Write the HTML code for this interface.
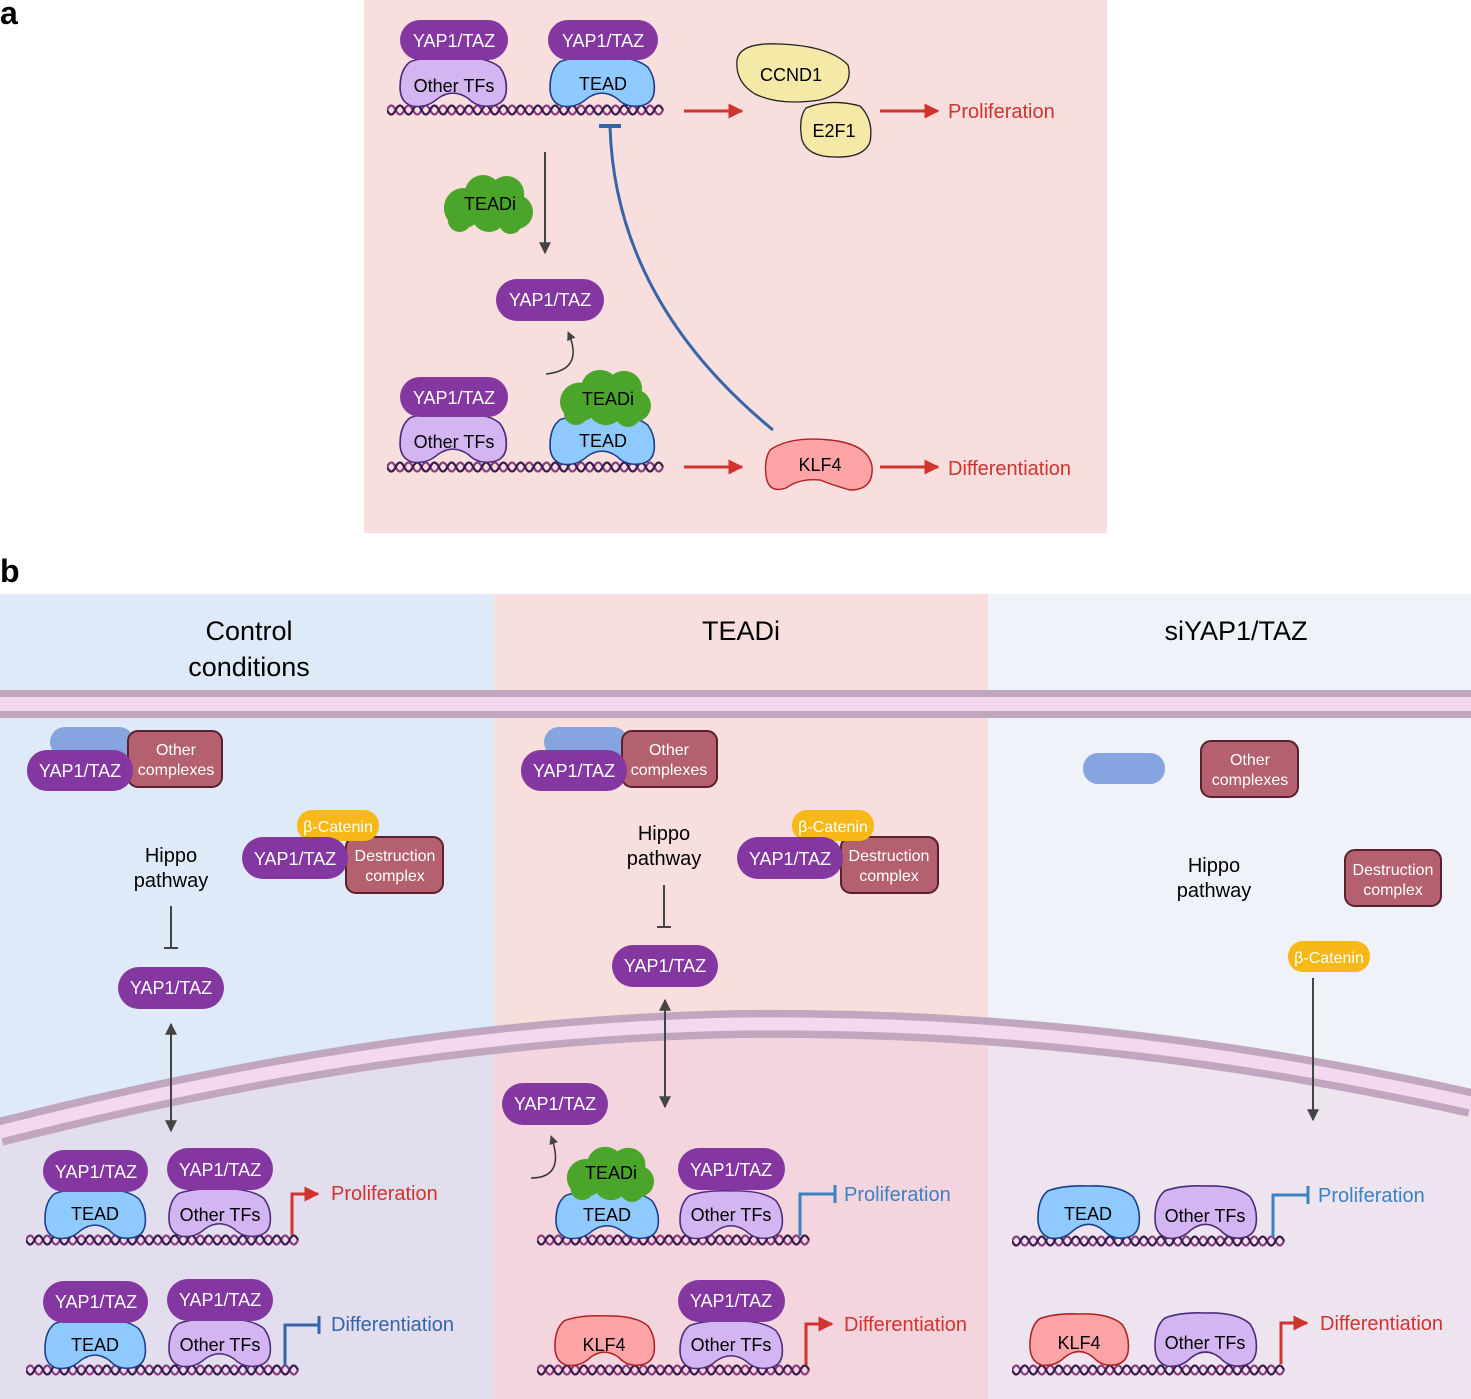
<!DOCTYPE html>
<html><head><meta charset="utf-8"><style>
html,body{margin:0;padding:0;background:#fff}
svg{display:block}
text{font-family:"Liberation Sans",sans-serif}
</style></head><body>
<svg width="1471" height="1399" viewBox="0 0 1471 1399" xmlns="http://www.w3.org/2000/svg">
<defs>
<symbol id="dna" viewBox="0 0 274 16" preserveAspectRatio="none">
<path d="M0,8 q4.25,-9 8.5,0 q4.25,9 8.5,0 q4.25,-9 8.5,0 q4.25,9 8.5,0 q4.25,-9 8.5,0 q4.25,9 8.5,0 q4.25,-9 8.5,0 q4.25,9 8.5,0 q4.25,-9 8.5,0 q4.25,9 8.5,0 q4.25,-9 8.5,0 q4.25,9 8.5,0 q4.25,-9 8.5,0 q4.25,9 8.5,0 q4.25,-9 8.5,0 q4.25,9 8.5,0 q4.25,-9 8.5,0 q4.25,9 8.5,0 q4.25,-9 8.5,0 q4.25,9 8.5,0 q4.25,-9 8.5,0 q4.25,9 8.5,0 q4.25,-9 8.5,0 q4.25,9 8.5,0 q4.25,-9 8.5,0 q4.25,9 8.5,0 q4.25,-9 8.5,0 q4.25,9 8.5,0 q4.25,-9 8.5,0 q4.25,9 8.5,0 q4.25,-9 8.5,0 q4.25,9 8.5,0" fill="none" stroke="#8b3a80" stroke-width="2.2"/>
<path d="M0,8 q4.25,9 8.5,0 q4.25,-9 8.5,0 q4.25,9 8.5,0 q4.25,-9 8.5,0 q4.25,9 8.5,0 q4.25,-9 8.5,0 q4.25,9 8.5,0 q4.25,-9 8.5,0 q4.25,9 8.5,0 q4.25,-9 8.5,0 q4.25,9 8.5,0 q4.25,-9 8.5,0 q4.25,9 8.5,0 q4.25,-9 8.5,0 q4.25,9 8.5,0 q4.25,-9 8.5,0 q4.25,9 8.5,0 q4.25,-9 8.5,0 q4.25,9 8.5,0 q4.25,-9 8.5,0 q4.25,9 8.5,0 q4.25,-9 8.5,0 q4.25,9 8.5,0 q4.25,-9 8.5,0 q4.25,9 8.5,0 q4.25,-9 8.5,0 q4.25,9 8.5,0 q4.25,-9 8.5,0 q4.25,9 8.5,0 q4.25,-9 8.5,0 q4.25,9 8.5,0 q4.25,-9 8.5,0" fill="none" stroke="#3a1a4c" stroke-width="2.2"/>
</symbol>
<symbol id="kid" viewBox="0 0 106 56" preserveAspectRatio="none">
<path d="M12,6 Q28,0 53,1 Q85,0 98,12 Q106,24 104,40 Q102,53 88,54 Q76,55 68,46 Q53,34 38,46 Q28,56 14,54 Q2,50 2,34 Q2,14 12,6 Z" stroke-width="1.6"/>
</symbol>
<symbol id="cloud" viewBox="0 0 96 62" preserveAspectRatio="none">
<g fill="#4aa52a">
<circle cx="24" cy="36" r="20"/><circle cx="44" cy="22" r="19"/><circle cx="68" cy="22" r="18"/><circle cx="78" cy="40" r="17"/><circle cx="50" cy="42" r="18"/><circle cx="20" cy="48" r="12"/><circle cx="72" cy="50" r="12"/>
</g></symbol>
<marker id="ar" viewBox="0 0 10 10" refX="9" refY="5" markerWidth="5" markerHeight="5" orient="auto-start-reverse"><path d="M0,0 L10,5 L0,10 Z" fill="#d1332e"/></marker>
<marker id="ak" viewBox="0 0 10 10" refX="9" refY="5" markerWidth="6" markerHeight="6" orient="auto-start-reverse"><path d="M0,0 L10,5 L0,10 Z" fill="#444"/></marker>
</defs>

<!-- PANEL A -->
<text x="0" y="24" font-size="32" font-weight="bold">a</text>
<rect x="364" y="0" width="743" height="533" fill="#f8dedd"/>

<use href="#dna" x="387" y="102" width="278" height="16"/>
<use href="#dna" x="387" y="459" width="278" height="16"/>
<g fill="#d3b5f1" stroke="#4a2a7a"><use href="#kid" x="398" y="56" width="110" height="52"/><use href="#kid" x="398" y="412" width="110" height="52"/></g>
<g fill="#8ec9ff" stroke="#1b3d8a"><use href="#kid" x="548" y="56" width="108" height="52"/><use href="#kid" x="548" y="414" width="108" height="52"/></g>
<g fill="#8437a0"><rect x="400" y="20" width="108" height="40" rx="20"/><rect x="548" y="20" width="110" height="40" rx="20"/><rect x="496" y="279" width="108" height="42" rx="21"/><rect x="400" y="377" width="108" height="40" rx="20"/></g>
<use href="#cloud" x="440" y="172" width="94" height="62"/>
<use href="#cloud" x="556" y="367" width="96" height="60"/>
<g font-size="18" text-anchor="middle" fill="#fff"><text x="454" y="47">YAP1/TAZ</text><text x="603" y="47">YAP1/TAZ</text><text x="550" y="306">YAP1/TAZ</text><text x="454" y="404">YAP1/TAZ</text></g>
<g font-size="18" text-anchor="middle"><text x="454" y="92">Other TFs</text><text x="603" y="90">TEAD</text><text x="490" y="210">TEADi</text><text x="608" y="405">TEADi</text><text x="454" y="448">Other TFs</text><text x="603" y="447">TEAD</text></g>
<path d="M737,60 Q740,42 780,44 Q830,46 848,65 Q855,90 820,100 Q780,106 755,94 Q735,82 737,60 Z" fill="#f5e9a8" stroke="#222" stroke-width="1.3"/>
<path d="M806,108 Q830,98 860,106 Q874,120 870,142 Q864,158 835,157 Q808,157 802,140 Q798,118 806,108 Z" fill="#f5e9a8" stroke="#222" stroke-width="1.3"/>
<text x="791" y="81" font-size="18" text-anchor="middle">CCND1</text><text x="834" y="137" font-size="18" text-anchor="middle">E2F1</text>
<path d="M770,450 Q790,436 830,440 Q868,444 872,466 Q874,490 850,490 Q835,486 820,480 Q800,478 786,488 Q768,494 766,475 Q764,460 770,450 Z" fill="#fda4a6" stroke="#b02020" stroke-width="1.4"/>
<text x="820" y="471" font-size="18" text-anchor="middle">KLF4</text>
<g stroke="#d1332e" stroke-width="3" marker-end="url(#ar)"><line x1="684" y1="111" x2="742" y2="111"/><line x1="880" y1="111" x2="938" y2="111"/><line x1="684" y1="467" x2="742" y2="467"/><line x1="880" y1="467" x2="938" y2="467"/></g>
<g fill="#d1332e" font-size="20"><text x="948" y="118">Proliferation</text><text x="948" y="475">Differentiation</text></g>
<line x1="545" y1="152" x2="545" y2="253" stroke="#444" stroke-width="2" marker-end="url(#ak)"/>
<path d="M546,374 Q585,370 568,332" fill="none" stroke="#333" stroke-width="1.5" marker-end="url(#ak)"/>
<path d="M773,430 Q615,300 610,126" fill="none" stroke="#3565a8" stroke-width="3"/>
<line x1="599" y1="126" x2="621" y2="126" stroke="#3565a8" stroke-width="4"/>

<!-- PANEL B -->
<text x="0" y="582" font-size="32" font-weight="bold">b</text>
<rect x="0" y="594" width="494" height="805" fill="#deeaf7"/>
<rect x="494" y="594" width="494" height="805" fill="#f8dedd"/>
<rect x="988" y="594" width="483" height="805" fill="#eff3f9"/>
<path d="M0,1132 Q400,1030 740,1024 Q1100,1020 1471,1103 L1471,1399 L0,1399 Z" fill="rgba(235,195,222,0.32)"/>
<path d="M0,1132 Q400,1030 740,1024 Q1100,1020 1471,1103" fill="none" stroke="#c0a6bf" stroke-width="28"/>
<path d="M0,1132 Q400,1030 740,1024 Q1100,1020 1471,1103" fill="none" stroke="#f2d9ef" stroke-width="13"/>
<rect x="0" y="690" width="1471" height="28" fill="#c0a6bf"/>
<rect x="0" y="697" width="1471" height="14" fill="#f2d9ef"/>
<g font-size="27" text-anchor="middle"><text x="249" y="640">Control</text><text x="249" y="676">conditions</text><text x="741" y="640">TEADi</text><text x="1236" y="640">siYAP1/TAZ</text></g>

<g fill="#86a4e0"><rect x="50" y="727" width="84" height="30" rx="15"/><rect x="544" y="727" width="84" height="30" rx="15"/><rect x="1083" y="753" width="82" height="31" rx="15"/></g>
<g fill="#b5606f" stroke="#5a2030" stroke-width="2"><rect x="128" y="731" width="94" height="56" rx="10"/><rect x="622" y="731" width="95" height="56" rx="10"/><rect x="1201" y="741" width="97" height="56" rx="10"/><rect x="346" y="837" width="97" height="56" rx="10"/><rect x="841" y="837" width="97" height="56" rx="10"/><rect x="1345" y="850" width="96" height="56" rx="10"/></g>
<g fill="#f7b91a"><rect x="297" y="810" width="82" height="31" rx="15"/><rect x="792" y="810" width="82" height="31" rx="15"/><rect x="1288" y="941" width="82" height="31" rx="15"/></g>
<g fill="#8437a0"><rect x="27" y="750" width="106" height="41" rx="20"/><rect x="521" y="750" width="106" height="41" rx="20"/><rect x="242" y="837" width="106" height="42" rx="21"/><rect x="737" y="837" width="106" height="42" rx="21"/><rect x="118" y="967" width="106" height="42" rx="21"/><rect x="612" y="945" width="106" height="42" rx="21"/><rect x="502" y="1083" width="106" height="42" rx="21"/></g>
<g font-size="16" fill="#fff" text-anchor="middle">
<text x="176" y="755">Other</text><text x="176" y="775">complexes</text>
<text x="669" y="755">Other</text><text x="669" y="775">complexes</text>
<text x="1250" y="765">Other</text><text x="1250" y="785">complexes</text>
<text x="395" y="861">Destruction</text><text x="395" y="881">complex</text>
<text x="889" y="861">Destruction</text><text x="889" y="881">complex</text>
<text x="1393" y="875">Destruction</text><text x="1393" y="895">complex</text>
<text x="338" y="832">β-Catenin</text><text x="833" y="832">β-Catenin</text><text x="1329" y="963">β-Catenin</text>
</g>
<g font-size="18" fill="#fff" text-anchor="middle">
<text x="80" y="777">YAP1/TAZ</text><text x="574" y="777">YAP1/TAZ</text><text x="295" y="865">YAP1/TAZ</text><text x="790" y="865">YAP1/TAZ</text><text x="171" y="994">YAP1/TAZ</text><text x="665" y="972">YAP1/TAZ</text><text x="555" y="1110">YAP1/TAZ</text>
</g>
<g font-size="20" text-anchor="middle"><text x="171" y="862">Hippo</text><text x="171" y="887">pathway</text><text x="664" y="840">Hippo</text><text x="664" y="865">pathway</text><text x="1214" y="872">Hippo</text><text x="1214" y="897">pathway</text></g>
<g stroke="#444" stroke-width="2"><line x1="171" y1="906" x2="171" y2="948"/><line x1="164" y1="948" x2="178" y2="948"/><line x1="664" y1="885" x2="664" y2="927"/><line x1="657" y1="927" x2="671" y2="927"/></g>
<g stroke="#444" stroke-width="2" marker-end="url(#ak)" marker-start="url(#ak)"><line x1="171" y1="1024" x2="171" y2="1131"/><line x1="665" y1="1000" x2="665" y2="1107"/></g>
<line x1="1313" y1="978" x2="1313" y2="1120" stroke="#444" stroke-width="2" marker-end="url(#ak)"/>
<path d="M531,1178 Q566,1178 551,1136" fill="none" stroke="#333" stroke-width="1.5" marker-end="url(#ak)"/>

<use href="#dna" x="26" y="1232" width="274" height="16"/><use href="#dna" x="26" y="1362" width="274" height="16"/><use href="#dna" x="537" y="1232" width="274" height="16"/><use href="#dna" x="537" y="1362" width="274" height="16"/><use href="#dna" x="1012" y="1233" width="274" height="16"/><use href="#dna" x="1012" y="1362" width="274" height="16"/>
<g fill="#8ec9ff" stroke="#1b3d8a"><use href="#kid" x="43" y="1188" width="104" height="52"/><use href="#kid" x="43" y="1318" width="104" height="52"/><use href="#kid" x="554" y="1190" width="106" height="50"/><use href="#kid" x="1036" y="1185" width="105" height="55"/></g>
<g fill="#d3b5f1" stroke="#4a2a7a"><use href="#kid" x="167" y="1188" width="105" height="50"/><use href="#kid" x="167" y="1318" width="105" height="50"/><use href="#kid" x="678" y="1190" width="106" height="50"/><use href="#kid" x="678" y="1320" width="106" height="50"/><use href="#kid" x="1153" y="1185" width="105" height="55"/><use href="#kid" x="1153" y="1312" width="105" height="56"/></g>
<g fill="#fda4a6" stroke="#b02020"><use href="#kid" x="553" y="1315" width="103" height="52"/><use href="#kid" x="1028" y="1313" width="102" height="54"/></g>
<use href="#cloud" x="563" y="1144" width="92" height="58"/>
<g fill="#8437a0"><rect x="43" y="1150" width="105" height="42" rx="21"/><rect x="167" y="1148" width="106" height="42" rx="21"/><rect x="43" y="1281" width="105" height="42" rx="21"/><rect x="167" y="1279" width="106" height="42" rx="21"/><rect x="678" y="1148" width="107" height="42" rx="21"/><rect x="678" y="1280" width="107" height="42" rx="21"/></g>
<g font-size="18" fill="#fff" text-anchor="middle"><text x="96" y="1178">YAP1/TAZ</text><text x="220" y="1176">YAP1/TAZ</text><text x="96" y="1308">YAP1/TAZ</text><text x="220" y="1306">YAP1/TAZ</text><text x="731" y="1176">YAP1/TAZ</text><text x="731" y="1307">YAP1/TAZ</text></g>
<g font-size="18" text-anchor="middle">
<text x="95" y="1220">TEAD</text><text x="220" y="1221">Other TFs</text><text x="95" y="1351">TEAD</text><text x="220" y="1351">Other TFs</text>
<text x="611" y="1179">TEADi</text><text x="607" y="1221">TEAD</text><text x="731" y="1221">Other TFs</text><text x="604" y="1351">KLF4</text><text x="731" y="1351">Other TFs</text>
<text x="1088" y="1220">TEAD</text><text x="1205" y="1222">Other TFs</text><text x="1079" y="1349">KLF4</text><text x="1205" y="1349">Other TFs</text>
</g>
<g fill="none" stroke-width="3">
<path d="M292,1235 V1194 H318" stroke="#d1332e" marker-end="url(#ar)"/>
<path d="M806,1365 V1324 H832" stroke="#d1332e" marker-end="url(#ar)"/>
<path d="M1281,1364 V1323 H1307" stroke="#d1332e" marker-end="url(#ar)"/>
<path d="M285,1366 V1325 H318" stroke="#3565a8"/><line x1="319" y1="1316" x2="319" y2="1334" stroke="#3565a8"/>
<path d="M800,1236 V1194 H834" stroke="#3b82c4"/><line x1="835" y1="1185" x2="835" y2="1203" stroke="#3b82c4"/>
<path d="M1273,1237 V1195 H1307" stroke="#3b82c4"/><line x1="1308" y1="1186" x2="1308" y2="1204" stroke="#3b82c4"/>
</g>
<g font-size="20"><text x="331" y="1200" fill="#d1332e">Proliferation</text><text x="331" y="1331" fill="#3565a8">Differentiation</text>
<text x="844" y="1201" fill="#3b82c4">Proliferation</text><text x="844" y="1331" fill="#d1332e">Differentiation</text>
<text x="1318" y="1202" fill="#3b82c4">Proliferation</text><text x="1320" y="1330" fill="#d1332e">Differentiation</text></g>
</svg>
</body></html>
